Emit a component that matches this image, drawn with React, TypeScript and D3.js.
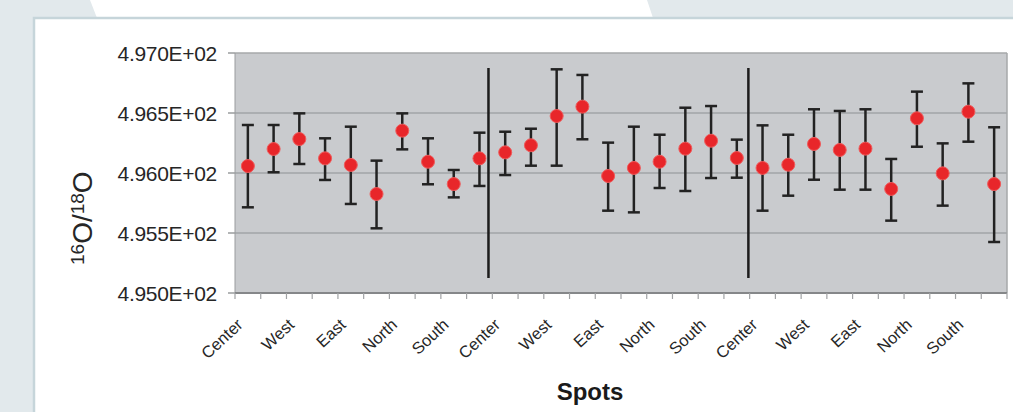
import React from 'react';
import * as d3 from 'd3';

// tick labels (one label for every second spot)
const spotLabels = ['Center', 'West', 'East', 'North', 'South', 'Center', 'West', 'East', 'North', 'South', 'Center', 'West', 'East', 'North', 'South'];

// 16O/18O ratio per spot, with error bar ends
const ratio = [
  496.058, 496.20, 496.283, 496.122, 496.067, 495.825, 496.353, 496.094, 495.908, 496.122,
  496.172, 496.231, 496.475, 496.553, 495.975, 496.042, 496.094, 496.203, 496.269, 496.125,
  496.042, 496.069, 496.242, 496.192, 496.203, 495.867, 496.456, 495.997, 496.511, 495.908,
];
const ratioHigh = [
  496.40, 496.40, 496.497, 496.289, 496.386, 496.103, 496.497, 496.289, 496.025, 496.336,
  496.344, 496.369, 496.864, 496.817, 496.253, 496.386, 496.319, 496.544, 496.558, 496.278,
  496.397, 496.319, 496.531, 496.517, 496.531, 496.117, 496.678, 496.247, 496.747, 496.381,
];
const ratioLow = [
  495.714, 496.006, 496.075, 495.942, 495.742, 495.539, 496.197, 495.906, 495.797, 495.892,
  495.983, 496.061, 496.061, 496.281, 495.686, 495.672, 495.875, 495.85, 495.958, 495.961,
  495.686, 495.811, 495.944, 495.861, 495.861, 495.603, 496.219, 495.728, 496.261, 495.425,
];

const yTicks = [495.0, 495.5, 496.0, 496.5, 497.0];
// separators between the three sample groups (in spot units) and their value span
const separators = [9.85, 19.95];
const separatorSpan = [495.125, 496.875];

const W = 1013;
const H = 412;
const plot = { left: 235, right: 1007, top: 53, bottom: 293 };

export default function App() {
  const x = d3.scaleLinear().domain([0, ratio.length]).range([plot.left, plot.right]);
  const y = d3.scaleLinear().domain([495, 497]).range([plot.bottom, plot.top]);
  const fmt = (v: number) => v.toExponential(3).toUpperCase().replace('E+2', 'E+02');
  const font = "'Liberation Sans', Arial, sans-serif";
  const boundaries = d3.range(ratio.length + 1);

  return (
    <svg width={W} height={H} style={{ position: 'absolute', left: 0, top: 0 }} fontFamily={font}>
      {/* page background */}
      <rect x={0} y={0} width={W} height={H} fill="#e2e9ec" />
      <path d="M90,0 L647,0 L653,18 L97,18 Z" fill="#ffffff" />
      <rect x={34} y={18} width={W} height={H} fill="#ffffff" stroke="#c6d5da" strokeWidth={2.5} />

      {/* plot area */}
      <rect x={plot.left} y={plot.top} width={plot.right - plot.left} height={plot.bottom - plot.top} fill="#c9cbce" />
      {yTicks.slice(1, -1).map(t => (
        <line key={t} x1={plot.left} x2={plot.right} y1={y(t)} y2={y(t)} stroke="#8d9194" strokeWidth={1} />
      ))}
      <line x1={plot.left} x2={plot.right} y1={plot.top} y2={plot.top} stroke="#a6a8aa" strokeWidth={1.5} />
      <line x1={plot.right} x2={plot.right} y1={plot.top} y2={plot.bottom} stroke="#a6a8aa" strokeWidth={1.5} />
      <line x1={plot.left} x2={plot.left} y1={plot.top} y2={plot.bottom} stroke="#9a9c9e" strokeWidth={1} />
      <line x1={plot.left} x2={plot.right} y1={plot.bottom} y2={plot.bottom} stroke="#858789" strokeWidth={2} />

      {/* y axis */}
      {yTicks.map(t => (
        <g key={t}>
          <line x1={plot.left - 7} x2={plot.left} y1={y(t)} y2={y(t)} stroke="#9a9c9e" strokeWidth={1.5} />
          <text x={217} y={y(t) + 8} textAnchor="end" fontSize={21} fill="#262626" letterSpacing={-0.3}>{fmt(t)}</text>
        </g>
      ))}
      <text transform="translate(92,265) rotate(-90)" fill="#262626" fontSize={28}>
        <tspan fontSize={19} dy={-8}>16</tspan>
        <tspan dy={8}>O/</tspan>
        <tspan fontSize={19} dy={-8}>18</tspan>
        <tspan dy={8}>O</tspan>
      </text>

      {/* x axis ticks and labels */}
      {boundaries.map(i => (
        <line key={i} x1={x(i)} x2={x(i)} y1={plot.bottom} y2={plot.bottom + 6} stroke="#a0a2a4" strokeWidth={1.2} />
      ))}
      {spotLabels.map((s, k) => (
        <text key={k} transform={`translate(${x(k * 2 + 0.5) - 4},${plot.bottom + 33}) rotate(-43)`}
          textAnchor="end" fontSize={16.5} fill="#262626">{s}</text>
      ))}
      <text x={590} y={400} textAnchor="middle" fontSize={24} fontWeight="bold" fill="#1a1a1a">Spots</text>

      {/* group separators */}
      {separators.map(s => (
        <line key={s} x1={x(s)} x2={x(s)} y1={y(separatorSpan[1])} y2={y(separatorSpan[0])} stroke="#1c1c1c" strokeWidth={2.5} />
      ))}

      {/* error bars */}
      {ratio.map((v, i) => {
        const cx = x(i + 0.5);
        return (
          <g key={i} stroke="#222" strokeWidth={2.5}>
            <line x1={cx} x2={cx} y1={y(ratioHigh[i])} y2={y(ratioLow[i])} />
            <line x1={cx - 6} x2={cx + 6} y1={y(ratioHigh[i])} y2={y(ratioHigh[i])} />
            <line x1={cx - 6} x2={cx + 6} y1={y(ratioLow[i])} y2={y(ratioLow[i])} />
          </g>
        );
      })}
      {ratio.map((v, i) => (
        <circle key={i} cx={x(i + 0.5)} cy={y(v)} r={6.5} fill="#e8262a" stroke="#ef5a5a" strokeWidth={1} />
      ))}
    </svg>
  );
}
